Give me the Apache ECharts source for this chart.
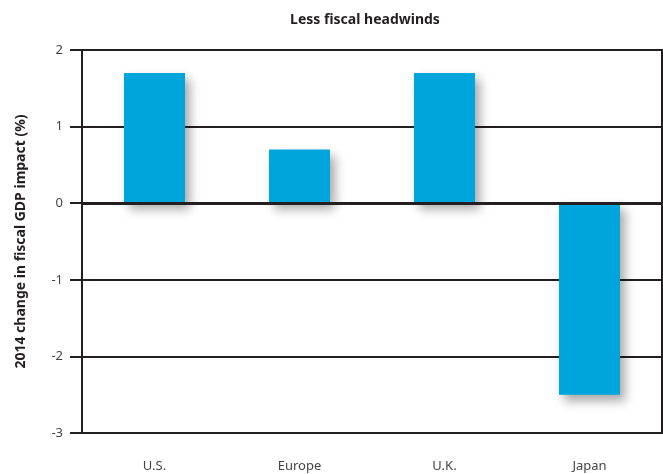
<!DOCTYPE html>
<html><head><meta charset="utf-8">
<script src="https://cdn.jsdelivr.net/npm/echarts@6/dist/echarts.min.js"></script>
<style>html,body{margin:0;padding:0;background:#fff}#c{width:663px;height:474px}</style>
</head><body><div id="c"></div>
<script>
var categories = ['U.S.', 'Europe', 'U.K.', 'Japan'];
var values = [1.7, 0.7, 1.7, -2.5];
var yMin = -3, yMax = 2, yStep = 1;
var titleText = 'Less fiscal headwinds';
var yName = '2014 change in fiscal GDP impact (%)';

var chart = echarts.init(document.getElementById('c'), null, {renderer: 'canvas'});
var font = '"Noto Sans", sans-serif';
chart.setOption({
  animation: false,
  backgroundColor: '#fff',
  title: {text: titleText, left: 360, top: 8, textAlign: 'center',
    textStyle: {fontFamily: font, fontSize: 14, fontWeight: 'bold', color: '#231f20'}},
  grid: {left: 82, right: 1, top: 50, bottom: 41, show: true, borderColor: '#231f20', borderWidth: 2, backgroundColor: 'transparent'},
  xAxis: {type: 'category', data: categories,
    axisLine: {show: false}, axisTick: {show: false},
    axisLabel: {margin: 27, fontFamily: font, fontSize: 13, color: '#444'}},
  yAxis: {type: 'value', min: yMin, max: yMax, interval: yStep,
    name: yName, nameLocation: 'middle', nameGap: 54,
    nameTextStyle: {fontFamily: font, fontSize: 14, fontWeight: 'bold', color: '#231f20'},
    axisLine: {show: true, lineStyle: {color: '#231f20', width: 2}},
    axisTick: {show: true, length: 12, lineStyle: {color: '#231f20', width: 2}},
    axisLabel: {margin: 19, fontFamily: font, fontSize: 13, color: '#444'},
    splitLine: {show: true, lineStyle: {color: '#231f20', width: 2}}},
  series: [{type: 'bar', data: values, barWidth: 61,
    itemStyle: {color: '#00a6db', shadowBlur: 10, shadowOffsetX: 5, shadowOffsetY: 6, shadowColor: 'rgba(0,0,0,0.35)'},
    markLine: {silent: true, symbol: 'none', label: {show: false},
      lineStyle: {color: '#231f20', width: 3, type: 'solid'},
      data: [{yAxis: 0}]}
  }]
});
</script></body></html>
